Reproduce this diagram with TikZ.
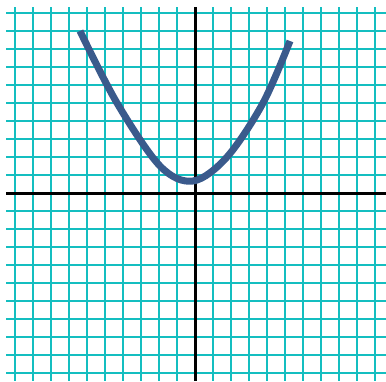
\documentclass[tikz,border=0pt]{standalone}
\definecolor{gridteal}{RGB}{20,190,192}
\definecolor{curveblue}{RGB}{58,90,140}
\begin{document}
\begin{tikzpicture}[x=1pt,y=-1pt,
  gridline/.style={draw=gridteal,line width=1.2pt},
  axisline/.style={draw=black,line width=3.3pt},
  curveline/.style={draw=curveblue,line width=7pt,line join=round}]
\useasboundingbox (0,0) rectangle (386,381);
\fill[white] (0,0) rectangle (386,381);
\foreach \k in {0,...,20}{
  \draw[gridline] ({15+18*\k},7) -- ({15+18*\k},381);
  \draw[gridline] (6,{13+18*\k}) -- (386,{13+18*\k});
}
\draw[axisline] (6,193.5) -- (386,193.5);
\draw[axisline] (195.5,7) -- (195.5,381);
\draw[curveline] plot[smooth,tension=0.55] coordinates
  {(80,31) (117,103) (160,166) (193,181) (227,157) (263,103) (290,41)};
\end{tikzpicture}
\end{document}
